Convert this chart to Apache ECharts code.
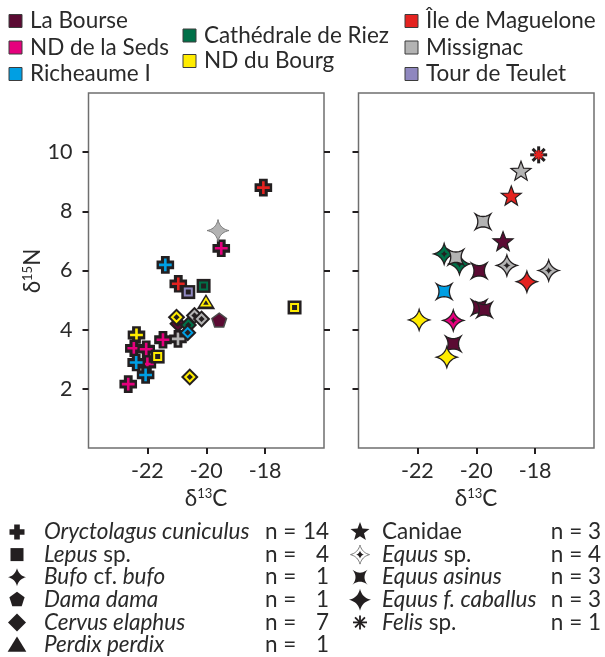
<!DOCTYPE html>
<html>
<head>
<meta charset="utf-8">
<script src="https://cdn.jsdelivr.net/npm/echarts@6/dist/echarts.min.js"></script>
<style>
  html, body { margin: 0; padding: 0; background: #fff; }
  #chart { width: 605px; height: 657px; }
</style>
</head>
<body>
<div id="chart"></div>
<script>
// ---- Sites ----
const siteNames = ['La Bourse', 'ND de la Seds', 'Richeaume I', 'Cathédrale de Riez',
                   'ND du Bourg', 'Île de Maguelone', 'Missignac', 'Tour de Teulet'];

// ---- Small fauna (left panel): [site, δ13C, δ15N] ----
const oryctolagus = [
  ['Île de Maguelone', -18.06, 8.80],
  ['ND de la Seds', -19.49, 6.75],
  ['Richeaume I', -21.39, 6.19],
  ['Île de Maguelone', -20.95, 5.55],
  ['Missignac', -20.96, 3.69],
  ['ND de la Seds', -21.47, 3.66],
  ['ND du Bourg', -22.37, 3.82],
  ['ND de la Seds', -22.46, 3.37],
  ['ND de la Seds', -22.04, 3.34],
  ['ND de la Seds', -22.00, 2.84],
  ['Richeaume I', -22.38, 2.89],
  ['Richeaume I', -22.06, 2.47],
  ['ND de la Seds', -22.65, 2.16]
];
const lepus = [
  ['Tour de Teulet', -20.61, 5.27],
  ['Cathédrale de Riez', -20.09, 5.48],
  ['ND du Bourg', -17.00, 4.75],
  ['ND du Bourg', -21.65, 3.09]
];
const bufo = [['Missignac', -19.60, 7.35]];
const dama = [['La Bourse', -19.56, 4.30]];
const cervus = [
  ['La Bourse', -20.96, 4.20],
  ['Cathédrale de Riez', -20.61, 4.16],
  ['Richeaume I', -20.63, 3.90],
  ['ND du Bourg', -21.01, 4.42],
  ['Missignac', -20.40, 4.48],
  ['Missignac', -20.16, 4.36],
  ['ND du Bourg', -20.56, 2.40]
];
const perdix = [['ND du Bourg', -20.01, 4.92]];

// ---- Large fauna (right panel): [site, δ13C, δ15N] ----
const canidae = [
  ['Missignac', -18.48, 9.34],
  ['Île de Maguelone', -18.81, 8.50],
  ['La Bourse', -19.09, 6.96]
];
const felis = [['Île de Maguelone', -17.88, 9.91]];
const equusSp = [
  ['Cathédrale de Riez', -21.09, 6.56],
  ['Cathédrale de Riez', -20.57, 6.22],
  ['Missignac', -18.96, 6.17],
  ['Missignac', -17.54, 6.00],
  ['ND de la Seds', -20.78, 4.31]
];
const equusAsinus = [
  ['Missignac', -19.77, 7.65],
  ['Missignac', -20.69, 6.45],
  ['La Bourse', -19.90, 5.99],
  ['Richeaume I', -21.09, 5.29],
  ['La Bourse', -19.90, 4.75],
  ['La Bourse', -19.72, 4.67],
  ['La Bourse', -20.78, 3.52]
];
const equusCaballus = [
  ['Île de Maguelone', -18.28, 5.62],
  ['ND du Bourg', -21.94, 4.33],
  ['ND du Bourg', -21.00, 3.07]
];

// ---- Axes ----
const xTicks = [-22, -20, -18];
const yTicks = [2, 4, 6, 8, 10];

// ---- Species key (label, n) ----
const smallFaunaKey = [
  ['Oryctolagus cuniculus', 14], ['Lepus sp.', 4], ['Bufo cf. bufo', 1],
  ['Dama dama', 1], ['Cervus elaphus', 7], ['Perdix perdix', 1]
];
const largeFaunaKey = [
  ['Canidae', 3], ['Equus sp.', 4], ['Equus asinus', 3],
  ['Equus f. caballus', 3], ['Felis sp.', 1]
];

// ---- Styling ----
const siteColors = {
  'La Bourse': '#5b0b33',
  'ND de la Seds': '#e5007d',
  'Richeaume I': '#009fe3',
  'Cathédrale de Riez': '#007048',
  'ND du Bourg': '#ffec00',
  'Île de Maguelone': '#e42320',
  'Missignac': '#b3b3b3',
  'Tour de Teulet': '#8f87bf'
};
const INK = '#231f20';
const TXT = '#2a2a2a';
const FONT = 'Lato, "Open Sans", sans-serif';

// ---- Marker geometry (local coordinates around a point) ----
function plus(h, t) {
  return [[-t,-h],[t,-h],[t,-t],[h,-t],[h,t],[t,t],[t,h],[-t,h],[-t,t],[-h,t],[-h,-t],[-t,-t]];
}
function square(h) { return [[-h,-h],[h,-h],[h,h],[-h,h]]; }
function diamond(h) { return [[0,-h],[h,0],[0,h],[-h,0]]; }
function triangle(h) { return [[0,-h],[h*1.1,h*0.8],[-h*1.1,h*0.8]]; }
function regular(n, r) {
  const pts = [];
  for (let i = 0; i < n; i++) {
    const a = -Math.PI / 2 + i * 2 * Math.PI / n;
    pts.push([r * Math.cos(a), r * Math.sin(a)]);
  }
  return pts;
}
function star5(R, r) {
  const pts = [];
  for (let i = 0; i < 10; i++) {
    const a = -Math.PI / 2 + i * Math.PI / 5;
    const d = i % 2 ? r : R;
    pts.push([d * Math.cos(a), d * Math.sin(a)]);
  }
  return pts;
}
// closed outline made of quadratic curves between tips
function curvy(tips, ctrls, n) {
  n = n || 10;
  const pts = [];
  for (let i = 0; i < tips.length; i++) {
    const a = tips[i], b = tips[(i + 1) % tips.length], k = ctrls[i];
    for (let j = 0; j < n; j++) {
      const t = j / n, u = 1 - t;
      pts.push([u*u*a[0] + 2*u*t*k[0] + t*t*b[0], u*u*a[1] + 2*u*t*k[1] + t*t*b[1]]);
    }
  }
  return pts;
}
function star4(R, c) {
  return curvy([[0,-R],[R,0],[0,R],[-R,0]], [[c,-c],[c,c],[-c,c],[-c,-c]]);
}
function concaveSquare(h, c) {
  return curvy([[-h,-h],[h,-h],[h,h],[-h,h]], [[0,-c],[c,0],[0,c],[-c,0]]);
}
function poly(points, style) {
  return { type: 'polygon', shape: { points: points }, style: style };
}
function asterisk(h, width, color) {
  const els = [];
  for (let i = 0; i < 4; i++) {
    const a = i * Math.PI / 4;
    els.push({ type: 'line',
      shape: { x1: -h * Math.cos(a), y1: -h * Math.sin(a), x2: h * Math.cos(a), y2: h * Math.sin(a) },
      style: { stroke: color, lineWidth: width } });
  }
  return els;
}

function markerEls(kind, color) {
  switch (kind) {
    case 'cross':
      return [poly(plus(8.8, 4.4), { fill: INK }), poly(plus(6.4, 1.3), { fill: color })];
    case 'square':
      return [poly(square(7), { fill: INK }),
              poly(square(3.5), { fill: 'none', stroke: color, lineWidth: 2 })];
    case 'diamond':
      return [poly(diamond(8.8), { fill: INK }),
              poly(diamond(4.5), { fill: 'none', stroke: color, lineWidth: 2 })];
    case 'triangle':
      return [poly(triangle(8.4), { fill: INK }),
              poly(triangle(3.9), { fill: 'none', stroke: color, lineWidth: 1.8 })];
    case 'pentagon':
      return [poly(regular(5, 7.6), { fill: color, stroke: '#4a4a4a', lineWidth: 1.6 })];
    case 'bufo':
      return [poly(star4(11, 1.8), { fill: color, stroke: '#7a7a7a', lineWidth: 1 })];
    case 'canid':
      return [poly(star5(10.5, 4.4), { fill: color, stroke: INK, lineWidth: 1.2 })];
    case 'asinus':
      return [poly(concaveSquare(7.8, 2.6), { fill: color, stroke: INK, lineWidth: 1.3 })];
    case 'caballus':
      return [poly(star4(10.5, 2.2), { fill: color, stroke: INK, lineWidth: 1.3 })];
    case 'equusSp':
      return [poly(star4(10.5, 2.2), { fill: color, stroke: INK, lineWidth: 1.3 }),
              poly(star4(3.6, 0.7), { fill: INK })];
    case 'felis':
      return asterisk(8.5, 3, INK).concat(asterisk(4.6, 2, color));
  }
  return [];
}

// ---- Build point lists per panel, in drawing order ----
function tag(list, kind) { return list.map(p => ({ site: p[0], x: p[1], y: p[2], kind: kind })); }
const smallPoints = [].concat(
  tag(oryctolagus, 'cross'), tag(lepus, 'square'), tag(bufo, 'bufo'),
  tag(dama, 'pentagon'), tag(cervus, 'diamond'), tag(perdix, 'triangle'));
const largePoints = [].concat(
  tag(equusSp, 'equusSp'), tag(equusAsinus, 'asinus'), tag(equusCaballus, 'caballus'),
  tag(canidae, 'canid'), tag(felis, 'felis'));

function renderer(points) {
  return function (params, api) {
    const p = points[params.dataIndex];
    const c = api.coord([api.value(0), api.value(1)]);
    return { type: 'group', x: c[0], y: c[1], children: markerEls(p.kind, siteColors[p.site]) };
  };
}

// ---- Axes ----
function xAxisFor(gridIndex) {
  return {
    type: 'value', gridIndex: gridIndex, min: -24, max: -16,
    axisLine: { show: false }, splitLine: { show: false },
    axisTick: { show: true, customValues: xTicks, length: 6, lineStyle: { color: INK, width: 2 } },
    axisLabel: { customValues: xTicks, margin: 12, fontSize: 21.5, color: TXT, fontFamily: FONT }
  };
}
function yAxisFor(gridIndex, position, labels) {
  return {
    type: 'value', gridIndex: gridIndex, min: 0, max: 12, position: position,
    axisLine: { show: false }, splitLine: { show: false },
    axisTick: { show: true, customValues: yTicks, length: 6, lineStyle: { color: INK, width: 2 } },
    axisLabel: { show: labels, customValues: yTicks, margin: 16, fontSize: 21.5, color: TXT, fontFamily: FONT }
  };
}

// ---- Keys drawn as graphics ----
const graphics = [];
const titleRich = {
  d: { fontSize: 22.5, fontFamily: FONT, fill: TXT },
  s: { fontSize: 13, fontFamily: FONT, fill: TXT, verticalAlign: 'top' }
};
graphics.push({ type: 'text', x: 206, y: 499, style: { text: '{d|δ}{s|13}{d|C}', rich: titleRich, align: 'center', verticalAlign: 'middle' } });
graphics.push({ type: 'text', x: 476, y: 499, style: { text: '{d|δ}{s|13}{d|C}', rich: titleRich, align: 'center', verticalAlign: 'middle' } });
graphics.push({ type: 'text', x: 33, y: 271, rotation: Math.PI / 2,
  style: { text: '{d|δ}{s|15}{d|N}', rich: titleRich, align: 'center', verticalAlign: 'middle' } });

// site colour key
const siteColumns = [
  { x: 9, rows: [21, 47.5, 74], names: siteNames.slice(0, 3) },
  { x: 183, rows: [35.5, 61], names: siteNames.slice(3, 5) },
  { x: 405, rows: [21, 47.5, 74], names: siteNames.slice(5, 8) }
];
siteColumns.forEach(col => {
  col.names.forEach((name, i) => {
    const y = col.rows[i];
    graphics.push({ type: 'rect', shape: { x: col.x, y: y - 6.5, width: 13, height: 13 },
      style: { fill: siteColors[name], stroke: '#3c3c3c', lineWidth: 1 } });
    graphics.push({ type: 'text', x: col.x + 21, y: y,
      style: { text: name, fontSize: 22.5, fontFamily: FONT, fill: TXT, verticalAlign: 'middle' } });
  });
});

// species key
const richNames = {
  'Oryctolagus cuniculus': '{i|Oryctolagus cuniculus}',
  'Lepus sp.': '{i|Lepus}{r| sp.}',
  'Bufo cf. bufo': '{i|Bufo}{r| cf. }{i|bufo}',
  'Dama dama': '{i|Dama dama}',
  'Cervus elaphus': '{i|Cervus elaphus}',
  'Perdix perdix': '{i|Perdix perdix}',
  'Canidae': '{r|Canidae}',
  'Equus sp.': '{i|Equus}{r| sp.}',
  'Equus asinus': '{i|Equus asinus}',
  'Equus f. caballus': '{i|Equus f. caballus}',
  'Felis sp.': '{i|Felis}{r| sp.}'
};
const KEY_FS = 22.5;
const keyRich = {
  i: { fontSize: KEY_FS, fontFamily: FONT, fontStyle: 'italic', fill: TXT },
  r: { fontSize: KEY_FS, fontFamily: FONT, fill: TXT }
};
const keySymbols = {
  'Oryctolagus cuniculus': [poly(plus(7.5, 2.8), { fill: INK })],
  'Lepus sp.': [poly(square(6.5), { fill: INK })],
  'Bufo cf. bufo': [poly(star4(9, 1.8), { fill: INK })],
  'Dama dama': [poly(regular(5, 8), { fill: INK })],
  'Cervus elaphus': [poly(diamond(9), { fill: INK })],
  'Perdix perdix': [poly(triangle(8.5), { fill: INK })],
  'Canidae': [poly(star5(10, 4.2), { fill: INK })],
  'Equus sp.': [poly(star4(9.5, 2), { fill: '#fff', stroke: '#7a7a7a', lineWidth: 1 }),
                poly(star4(4, 0.8), { fill: INK })],
  'Equus asinus': [poly(concaveSquare(7.5, 1.5), { fill: INK })],
  'Equus f. caballus': [poly(star4(11, 2), { fill: INK })],
  'Felis sp.': asterisk(7, 1.8, INK)
};
const keyRow0 = 532, keyDy = 22.6;
smallFaunaKey.forEach((row, i) => {
  const y = keyRow0 + i * keyDy;
  graphics.push({ type: 'group', x: 17, y: y, children: keySymbols[row[0]] });
  graphics.push({ type: 'text', x: 44, y: y, style: { text: richNames[row[0]], rich: keyRich, verticalAlign: 'middle' } });
  graphics.push({ type: 'text', x: 265, y: y, style: { text: 'n =', fontSize: KEY_FS, fontFamily: FONT, fill: TXT, verticalAlign: 'middle' } });
  graphics.push({ type: 'text', x: 329, y: y, style: { text: String(row[1]), fontSize: KEY_FS, fontFamily: FONT, fill: TXT, align: 'right', verticalAlign: 'middle' } });
});
largeFaunaKey.forEach((row, i) => {
  const y = keyRow0 + i * keyDy;
  graphics.push({ type: 'group', x: 360, y: y, children: keySymbols[row[0]] });
  graphics.push({ type: 'text', x: 382, y: y, style: { text: richNames[row[0]], rich: keyRich, verticalAlign: 'middle' } });
  graphics.push({ type: 'text', x: 601, y: y, style: { text: 'n = ' + row[1], fontSize: KEY_FS, fontFamily: FONT, fill: TXT, align: 'right', verticalAlign: 'middle' } });
});

const chart = echarts.init(document.getElementById('chart'), null, { renderer: 'canvas' });
chart.setOption({
  animation: false,
  backgroundColor: '#fff',
  grid: [
    { left: 88.5, top: 93, width: 235.5, height: 355, show: true, borderColor: '#6f6f6f', borderWidth: 1.5 },
    { left: 358.5, top: 93, width: 235.5, height: 355, show: true, borderColor: '#6f6f6f', borderWidth: 1.5 }
  ],
  xAxis: [xAxisFor(0), xAxisFor(1)],
  yAxis: [yAxisFor(0, 'left', true), yAxisFor(0, 'right', false), yAxisFor(1, 'left', false)],
  series: [
    { type: 'custom', name: 'small fauna', xAxisIndex: 0, yAxisIndex: 0, silent: true,
      data: smallPoints.map(p => [p.x, p.y]), renderItem: renderer(smallPoints) },
    { type: 'custom', name: 'large fauna', xAxisIndex: 1, yAxisIndex: 2, silent: true,
      data: largePoints.map(p => [p.x, p.y]), renderItem: renderer(largePoints) }
  ],
  graphic: graphics
});
</script>
</body>
</html>
